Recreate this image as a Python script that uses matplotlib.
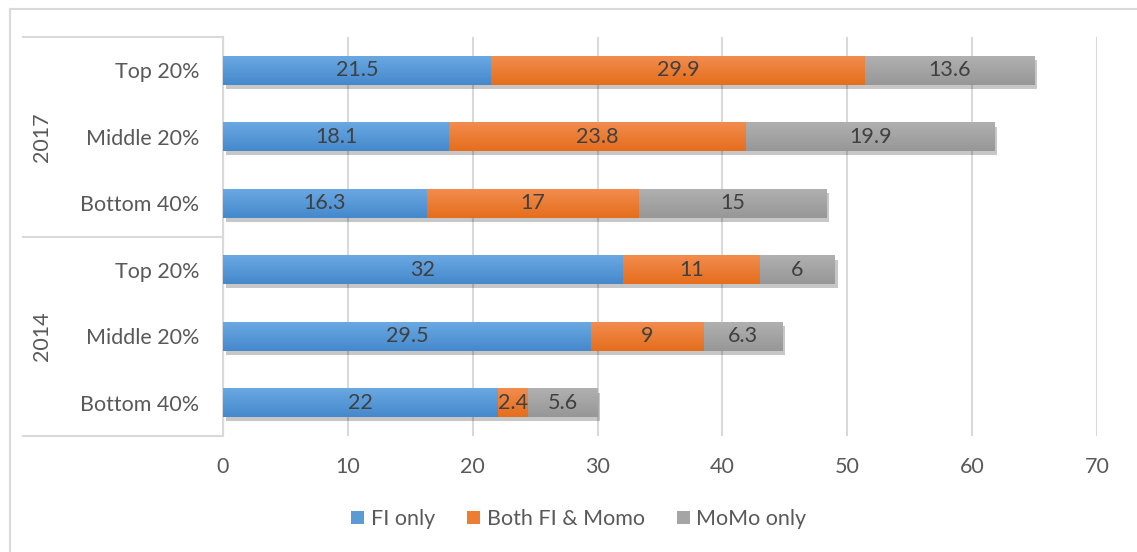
import numpy as np
import matplotlib.pyplot as plt
import matplotlib.patheffects as pe
from matplotlib.patches import Patch
from matplotlib.colors import to_rgb

plt.rcParams['font.family'] = ['Lato', 'DejaVu Sans']

years = ['2017', '2014']
groups = ['Top 20%', 'Middle 20%', 'Bottom 40%']
categories = groups + groups

fi_only = [21.5, 18.1, 16.3, 32, 29.5, 22]
both = [29.9, 23.8, 17, 11, 9, 2.4]
momo_only = [13.6, 19.9, 15, 6, 6.3, 5.6]

series_names = ['FI only', 'Both FI & Momo', 'MoMo only']
colors = ['#5B9BD5', '#ED7D31', '#A5A5A5']
tops = ['#6AA8E2', '#F28C4E', '#B0B0B0']
bottoms = ['#4589CC', '#E56E1C', '#979797']

text_col = '#595959'
grid_col = '#D9D9D9'
fs = 15.5

fig = plt.figure(figsize=(11.37, 5.52), dpi=100)
W, H = 1137, 552
ax = fig.add_axes([223 / W, 1 - 436 / H, 874 / W, 399 / H])

y = np.arange(len(categories))
left = np.zeros(len(categories))
bh = 0.43
shadow = [pe.SimplePatchShadow(offset=(2, -3), shadow_rgbFace='#000000', alpha=0.22),
          pe.Normal()]

all_bars = []
for vals, c, c_top, c_bot in zip([fi_only, both, momo_only], colors, tops, bottoms):
    bars = ax.barh(y, vals, left=left, height=bh, color=c, zorder=3,
                   path_effects=shadow)
    all_bars.append((bars, c_top, c_bot))
    for yi, l, v in zip(y, left, vals):
        ax.text(l + v / 2, yi, f'{v:g}', ha='center', va='center',
                fontsize=fs, color='#404040', zorder=6)
    left = left + np.array(vals)

ax.set_xlim(0, 70)
ax.set_ylim(len(categories) - 0.5, -0.5)

# vertical gradient fill on each bar, clipped to the bar outline
for bars, c_top, c_bot in all_bars:
    t = np.array(to_rgb(c_top))
    b = np.array(to_rgb(c_bot))
    grad = np.linspace(0, 1, 64)[:, None, None] * (b - t) + t
    for rect in bars:
        x0, y0 = rect.get_x(), rect.get_y()
        im = ax.imshow(grad, extent=(x0, x0 + rect.get_width(), y0 + rect.get_height(), y0),
                       aspect='auto', interpolation='bilinear', zorder=4)
        im.set_clip_path(rect)

ax.set_xlim(0, 70)
ax.set_ylim(len(categories) - 0.5, -0.5)

ax.set_xticks(range(0, 71, 10))
ax.xaxis.grid(True, color=grid_col, linewidth=1.5, zorder=0)
ax.set_axisbelow(True)
ax.set_yticks(y)
ax.set_yticklabels(categories)
ax.tick_params(axis='y', length=0, pad=17, labelsize=fs, labelcolor=text_col)
ax.tick_params(axis='x', length=0, pad=15, labelsize=fs, labelcolor=text_col)
for s in ['top', 'right', 'bottom']:
    ax.spines[s].set_visible(False)
ax.spines['left'].set_color(grid_col)
ax.spines['left'].set_linewidth(1.5)

# grouped category axis: year labels and separators
x_left = (23 - 223) / 874
for yy in [-0.5, 2.5, 5.5]:
    ax.plot([x_left, 0], [yy, yy], color=grid_col, lw=1.5, clip_on=False,
            transform=ax.get_yaxis_transform())
for i, yr in enumerate(years):
    ax.text((42 - 223) / 874, 1 + 3 * i, yr, rotation=90, ha='center', va='center',
            fontsize=fs, color=text_col, transform=ax.get_yaxis_transform())

# outer chart border
fig.add_artist(plt.Line2D([10 / W, 10 / W], [0, 1 - 9 / H], color=grid_col, lw=1.5))
fig.add_artist(plt.Line2D([10 / W, 1], [1 - 9 / H, 1 - 9 / H], color=grid_col, lw=1.5))

handles = [Patch(facecolor=c) for c in colors]
fig.legend(handles, series_names, loc='center', bbox_to_anchor=(579 / W, 1 - 519 / H),
           ncol=3, frameon=False, fontsize=fs, labelcolor=text_col,
           handlelength=0.6, handleheight=0.6, handletextpad=0.3, columnspacing=1.5)

fig.savefig('out.png', dpi=100)
